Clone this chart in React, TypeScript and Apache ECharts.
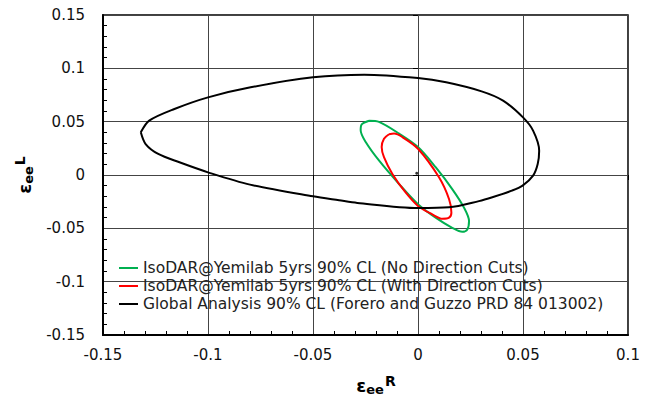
import React, { useEffect, useRef } from 'react';
import * as echarts from 'echarts';

const seriesNames = [
  'IsoDAR@Yemilab 5yrs 90% CL (No Direction Cuts)',
  'IsoDAR@Yemilab 5yrs 90% CL (With Direction Cuts)',
  'Global Analysis 90% CL (Forero and Guzzo PRD 84 013002)',
];
const seriesColors = ['#00B050', '#FF0000', '#000000'];

const noCutsContour: [number, number][] = [
  [-0.0233, 0.0508], [-0.0186, 0.0498], [-0.009, 0.0388], [0.0, 0.0262], [0.0084, 0.0073],
  [0.0163, -0.0132], [0.0219, -0.0306], [0.0243, -0.0432], [0.0235, -0.0511], [0.0211, -0.0533],
  [0.0163, -0.0495], [0.0084, -0.04], [0.0, -0.0274], [-0.009, -0.0085], [-0.0186, 0.0136],
  [-0.0249, 0.0309], [-0.0273, 0.042], [-0.0268, 0.0475], [-0.0233, 0.0508],
];

const withCutsContour: [number, number][] = [
  [-0.0138, 0.0382], [-0.0114, 0.0388], [-0.0075, 0.0356], [0.0, 0.0246], [0.01, -0.0022],
  [0.0148, -0.0227], [0.0159, -0.0353], [0.0148, -0.04], [0.0116, -0.041], [0.0068, -0.0369],
  [0.0, -0.029], [-0.0059, -0.0164], [-0.0122, 0.001], [-0.0162, 0.0167], [-0.0173, 0.0262],
  [-0.0162, 0.034], [-0.0138, 0.0382],
];

const globalContour: [number, number][] = [
  [-0.132, 0.04], [-0.128, 0.051], [-0.116, 0.0619], [-0.1, 0.0728], [-0.0797, 0.0822],
  [-0.05, 0.0916], [-0.0256, 0.0941], [0.0, 0.0909], [0.0134, 0.0869], [0.0303, 0.0784],
  [0.0405, 0.0697], [0.05, 0.054], [0.0548, 0.0416], [0.0577, 0.0228], [0.057, 0.0103],
  [0.0548, -0.0006], [0.0498, -0.01], [0.0447, -0.0147], [0.0354, -0.0209], [0.029, -0.0245],
  [0.0148, -0.0303], [0.0, -0.031], [-0.0289, -0.0262], [-0.0376, -0.0237], [-0.05, -0.02],
  [-0.08, -0.009], [-0.1, 0.0025], [-0.1136, 0.0119], [-0.1237, 0.0197], [-0.1297, 0.029],
  [-0.132, 0.04],
];

const bestFitPoint: [number, number][] = [[-0.0006, 0.0016]];

const xRange = { min: -0.15, max: 0.1, interval: 0.05 };
const yRange = { min: -0.15, max: 0.15, interval: 0.05 };

const FONT = 'DejaVu Sans';

export default function App() {
  const ref = useRef<HTMLDivElement>(null);
  useEffect(() => {
    if (!ref.current) return;
    const chart = echarts.init(ref.current, undefined, { renderer: 'svg' });
    const nameRich = {
      a: { fontSize: 18, fontWeight: 'bold', fontFamily: FONT, color: '#000', lineHeight: 22, verticalAlign: 'middle' },
      b: { fontSize: 13, fontWeight: 'bold', fontFamily: FONT, color: '#000', lineHeight: 14, verticalAlign: 'bottom' },
      c: { fontSize: 14, fontWeight: 'bold', fontFamily: FONT, color: '#000', lineHeight: 9, verticalAlign: 'top', padding: [0, 0, 0, 1] },
    };
    const gridLine = { show: true, lineStyle: { color: '#444', width: 1 } };
    const axisLine = { show: true, onZero: false, lineStyle: { color: '#000', width: 2 } };
    const label = { fontSize: 15, fontFamily: FONT, color: '#111' };
    chart.setOption({
      animation: false,
      backgroundColor: '#fff',
      grid: {
        left: 103, right: 29, top: 15, bottom: 62, show: true, borderColor: '#000', borderWidth: 1.5,
        containLabel: false, outerBoundsMode: 'none',
      },
      xAxis: [
        {
          type: 'value', ...xRange, position: 'bottom',
          axisLine, axisLabel: { ...label, margin: 12 },
          axisTick: { show: false, inside: true },
          minorTick: { show: true, splitNumber: 5, length: 4, lineStyle: { color: '#000' } },
          splitLine: gridLine,
          name: '{a|ε}{b|ee}{c|R}', nameLocation: 'middle', nameGap: 39,
          nameTextStyle: { rich: nameRich, padding: [0, 0, 0, 21] },
        },
        {
          type: 'value', ...xRange, position: 'bottom',
          axisLine: { show: false }, axisLabel: { show: false },
          axisTick: { show: true, inside: false, length: 5, lineStyle: { color: '#000' } },
          splitLine: { show: false },
        },
      ],
      yAxis: [
        {
          type: 'value', ...yRange, position: 'left',
          axisLine, axisLabel: { ...label, margin: 18 },
          axisTick: { show: false, inside: true },
          minorTick: { show: true, splitNumber: 5, length: 4, lineStyle: { color: '#000' } },
          splitLine: gridLine,
          name: '{a|ε}{b|ee}{c|L}', nameLocation: 'middle', nameGap: 64, nameRotate: 90,
          nameTextStyle: { rich: nameRich },
        },
        {
          type: 'value', ...yRange, position: 'left',
          axisLine: { show: false }, axisLabel: { show: false },
          axisTick: { show: true, inside: false, length: 5, lineStyle: { color: '#000' } },
          splitLine: { show: false },
        },
      ],
      legend: {
        orient: 'vertical', left: 119, top: 259, padding: 0,
        icon: 'rect', itemWidth: 19, itemHeight: 2, itemGap: 0,
        data: seriesNames,
        textStyle: { fontSize: 15.5, lineHeight: 18, fontFamily: FONT, color: '#222' },
      },
      series: [
        ...[noCutsContour, withCutsContour, globalContour].map((d, i) => ({
          type: 'line', name: seriesNames[i], data: d, xAxisIndex: 0, yAxisIndex: 0,
          symbol: 'none', smooth: 0.3, color: seriesColors[i],
          itemStyle: { color: seriesColors[i] },
          lineStyle: { color: seriesColors[i], width: 2 },
        })),
        {
          type: 'scatter', name: 'best fit', data: bestFitPoint, xAxisIndex: 0, yAxisIndex: 0,
          symbolSize: 3, itemStyle: { color: '#000' },
        },
      ],
    });
    return () => chart.dispose();
  }, []);
  return <div ref={ref} style={{ position: 'fixed', left: 0, top: 0, width: 657, height: 397 }} />;
}
